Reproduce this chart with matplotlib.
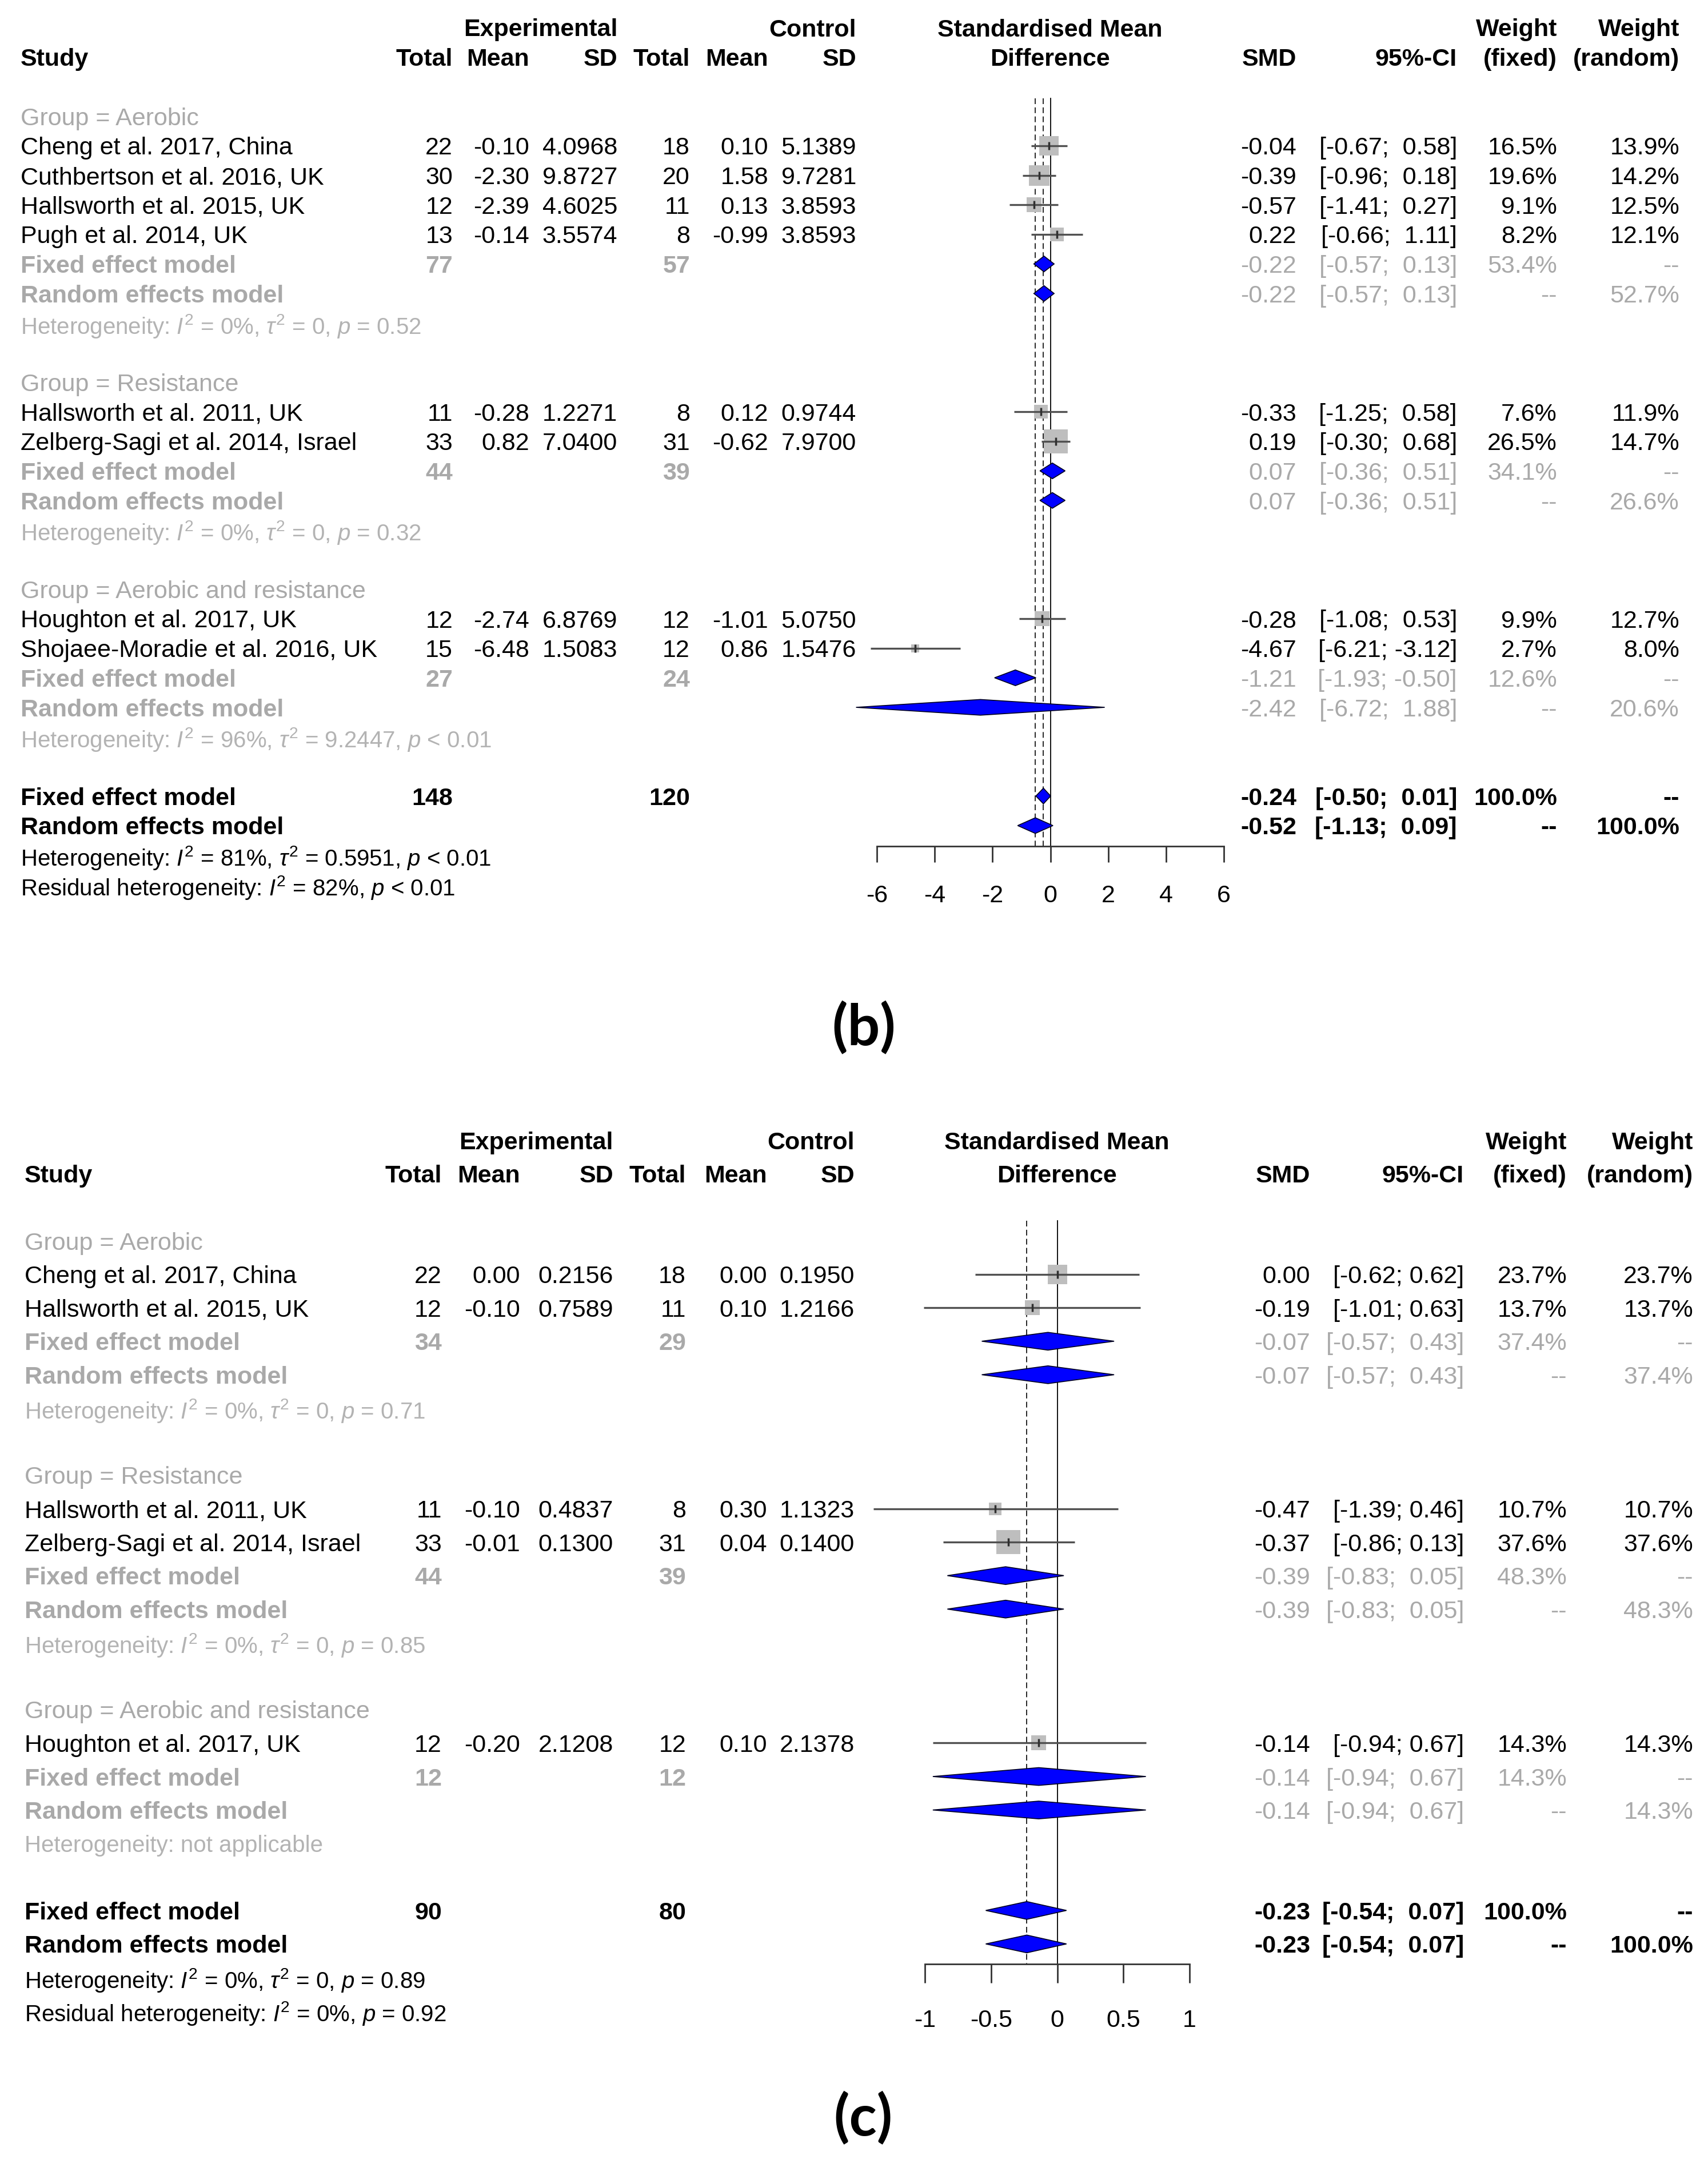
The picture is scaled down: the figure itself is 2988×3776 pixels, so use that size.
# forest plots (b) and (c): standardised mean difference by exercise group
# fixed and random effects, subgroup rows in grey, pooled diamonds in blue

import numpy as np
import matplotlib
matplotlib.use('Agg')
import matplotlib.pyplot as plt

plt.rcParams['font.family'] = ['Liberation Sans', 'DejaVu Sans']
plt.rcParams['mathtext.fontset'] = 'custom'
plt.rcParams['mathtext.rm'] = 'Liberation Sans'
plt.rcParams['mathtext.it'] = 'Liberation Sans:italic'
plt.rcParams['mathtext.bf'] = 'Liberation Sans:bold'
plt.rcParams['axes.unicode_minus'] = False

# ---------------- data (b) ----------------
b_groups = ['Aerobic', 'Resistance', 'Aerobic and resistance']
b_study = ['Cheng et al. 2017, China', 'Cuthbertson et al. 2016, UK',
           'Hallsworth et al. 2015, UK', 'Pugh et al. 2014, UK',
           'Hallsworth et al. 2011, UK', 'Zelberg-Sagi et al. 2014, Israel',
           'Houghton et al. 2017, UK', 'Shojaee-Moradie et al. 2016, UK']
b_grp = [0, 0, 0, 0, 1, 1, 2, 2]
b_ne = [22, 30, 12, 13, 11, 33, 12, 15]
b_me = [-0.10, -2.30, -2.39, -0.14, -0.28, 0.82, -2.74, -6.48]
b_se = [4.0968, 9.8727, 4.6025, 3.5574, 1.2271, 7.0400, 6.8769, 1.5083]
b_nc = [18, 20, 11, 8, 8, 31, 12, 12]
b_mc = [0.10, 1.58, 0.13, -0.99, 0.12, -0.62, -1.01, 0.86]
b_sc = [5.1389, 9.7281, 3.8593, 3.8593, 0.9744, 7.9700, 5.0750, 1.5476]
b_smd = [-0.04, -0.39, -0.57, 0.22, -0.33, 0.19, -0.28, -4.67]
b_lo = [-0.67, -0.96, -1.41, -0.66, -1.25, -0.30, -1.08, -6.21]
b_hi = [0.58, 0.18, 0.27, 1.11, 0.58, 0.68, 0.53, -3.12]
b_wf = [16.5, 19.6, 9.1, 8.2, 7.6, 26.5, 9.9, 2.7]
b_wr = [13.9, 14.2, 12.5, 12.1, 11.9, 14.7, 12.7, 8.0]

b_sub_ne = [77, 44, 27]
b_sub_nc = [57, 39, 24]
b_fix_est = [-0.22, 0.07, -1.21]
b_fix_lo = [-0.57, -0.36, -1.93]
b_fix_hi = [0.13, 0.51, -0.50]
b_fix_w = [53.4, 34.1, 12.6]
b_ran_est = [-0.22, 0.07, -2.42]
b_ran_lo = [-0.57, -0.36, -6.72]
b_ran_hi = [0.13, 0.51, 1.88]
b_ran_w = [52.7, 26.6, 20.6]
b_sub_het = [r'Heterogeneity: $I^2$ = 0%, $\tau^2$ = 0, $p$ = 0.52',
             r'Heterogeneity: $I^2$ = 0%, $\tau^2$ = 0, $p$ = 0.32',
             r'Heterogeneity: $I^2$ = 96%, $\tau^2$ = 9.2447, $p$ < 0.01']
b_tot_n = [148, 120]
b_tot_fix = [-0.24, -0.50, 0.01]
b_tot_ran = [-0.52, -1.13, 0.09]
b_het = r'Heterogeneity: $I^2$ = 81%, $\tau^2$ = 0.5951, $p$ < 0.01'
b_resid = r'Residual heterogeneity: $I^2$ = 82%, $p$ < 0.01'
b_xticks = [-6, -4, -2, 0, 2, 4, 6]
b_xticklabels = ['-6', '-4', '-2', '0', '2', '4', '6']

# ---------------- data (c) ----------------
c_groups = ['Aerobic', 'Resistance', 'Aerobic and resistance']
c_study = ['Cheng et al. 2017, China', 'Hallsworth et al. 2015, UK',
           'Hallsworth et al. 2011, UK', 'Zelberg-Sagi et al. 2014, Israel',
           'Houghton et al. 2017, UK']
c_grp = [0, 0, 1, 1, 2]
c_ne = [22, 12, 11, 33, 12]
c_me = [0.00, -0.10, -0.10, -0.01, -0.20]
c_se = [0.2156, 0.7589, 0.4837, 0.1300, 2.1208]
c_nc = [18, 11, 8, 31, 12]
c_mc = [0.00, 0.10, 0.30, 0.04, 0.10]
c_sc = [0.1950, 1.2166, 1.1323, 0.1400, 2.1378]
c_smd = [0.00, -0.19, -0.47, -0.37, -0.14]
c_lo = [-0.62, -1.01, -1.39, -0.86, -0.94]
c_hi = [0.62, 0.63, 0.46, 0.13, 0.67]
c_wf = [23.7, 13.7, 10.7, 37.6, 14.3]
c_wr = [23.7, 13.7, 10.7, 37.6, 14.3]

c_sub_ne = [34, 44, 12]
c_sub_nc = [29, 39, 12]
c_fix_est = [-0.07, -0.39, -0.14]
c_fix_lo = [-0.57, -0.83, -0.94]
c_fix_hi = [0.43, 0.05, 0.67]
c_fix_w = [37.4, 48.3, 14.3]
c_ran_est = [-0.07, -0.39, -0.14]
c_ran_lo = [-0.57, -0.83, -0.94]
c_ran_hi = [0.43, 0.05, 0.67]
c_ran_w = [37.4, 48.3, 14.3]
c_sub_het = [r'Heterogeneity: $I^2$ = 0%, $\tau^2$ = 0, $p$ = 0.71',
             r'Heterogeneity: $I^2$ = 0%, $\tau^2$ = 0, $p$ = 0.85',
             'Heterogeneity: not applicable']
c_tot_n = [90, 80]
c_tot_fix = [-0.23, -0.54, 0.07]
c_tot_ran = [-0.23, -0.54, 0.07]
c_het = r'Heterogeneity: $I^2$ = 0%, $\tau^2$ = 0, $p$ = 0.89'
c_resid = r'Residual heterogeneity: $I^2$ = 0%, $p$ = 0.92'
c_xticks = [-1, -0.5, 0, 0.5, 1]
c_xticklabels = ['-1', '-0.5', '0', '0.5', '1']

# ---------------- styles ----------------
W, H = 2988, 3776
FS = 31
FS_HET = 29
GREY = '#A9A9A9'
HETGREY = '#B3B3B3'
SQ = '#BEBEBE'
CI_COL = '#505050'

fig = plt.figure(figsize=(W / 100, H / 100), dpi=100)


def ci_str(lo, hi, pad=True):
    if pad:
        return '[%s; %s]' % ('%5.2f' % lo, '%5.2f' % hi)
    return '[%.2f; %.2f]' % (lo, hi)


def put(ax, x, r, s, ha='right', color='black', weight='normal', size=FS):
    ax.text(x, r, s, ha=ha, va='center_baseline', color=color,
            fontweight=weight, fontsize=size)


def panel(D, L):
    y0, dy, top, bot = L['y0'], L['dy'], L['top'], L['bot']
    ylim = ((bot - y0) / dy, (top - y0) / dy)
    ax = fig.add_axes([0, 1 - bot / H, 1, (bot - top) / H])
    ax.set_xlim(0, W)
    ax.set_ylim(ylim)
    ax.axis('off')
    fx0, fx1 = L['fx']
    fa = fig.add_axes([fx0 / W, 1 - bot / H, (fx1 - fx0) / W, (bot - top) / H])
    fa.set_xlim(D['xticks'][0], D['xticks'][-1])
    fa.set_ylim(ylim)
    fa.patch.set_visible(False)
    for s in ['left', 'right', 'top']:
        fa.spines[s].set_visible(False)
    fa.spines['bottom'].set_position(('data', L['axis_row']))
    fa.spines['bottom'].set_bounds(D['xticks'][0], D['xticks'][-1])
    fa.spines['bottom'].set_linewidth(2)
    fa.spines['bottom'].set_color('#333333')
    fa.set_yticks([])
    fa.set_xticks(D['xticks'])
    fa.set_xticklabels(D['xticklabels'])
    fa.tick_params(axis='x', direction='out', length=L['tick_len'], width=2,
                   color='#333333', pad=L['tick_pad'], labelsize=FS)

    C = L['cols']
    # header
    put(ax, C['sd_e'], 0, 'Experimental', weight='bold')
    put(ax, C['sd_c'], 0, 'Control', weight='bold')
    put(ax, C['fc'], 0, 'Standardised Mean', ha='center', weight='bold')
    put(ax, C['wf'], 0, 'Weight', weight='bold')
    put(ax, C['wr'], 0, 'Weight', weight='bold')
    put(ax, C['study'], 1, 'Study', ha='left', weight='bold')
    for key, lab in [('n_e', 'Total'), ('m_e', 'Mean'), ('sd_e', 'SD'),
                     ('n_c', 'Total'), ('m_c', 'Mean'), ('sd_c', 'SD'),
                     ('smd', 'SMD'), ('ci', '95%-CI'), ('wf', '(fixed)'),
                     ('wr', '(random)')]:
        put(ax, C[key], 1, lab, weight='bold')
    put(ax, C['fc'], 1, 'Difference', ha='center', weight='bold')

    wmax = max(D['wf'])
    hh = 0.265

    def diamond(est, lo, hi, r):
        fa.fill([lo, est, hi, est], [r, r - hh, r, r + hh], facecolor='#0000FF',
                edgecolor='#000020', linewidth=1.2, zorder=4, clip_on=False)

    r = 3
    for g, gname in enumerate(D['groups']):
        put(ax, C['study'], r, 'Group = ' + gname, ha='left', color=GREY)
        r += 1
        for i in range(len(D['study'])):
            if D['grp'][i] != g:
                continue
            put(ax, C['study'], r, D['study'][i], ha='left')
            put(ax, C['n_e'], r, '%d' % D['ne'][i])
            put(ax, C['m_e'], r, '%.2f' % D['me'][i])
            put(ax, C['sd_e'], r, '%.4f' % D['se'][i])
            put(ax, C['n_c'], r, '%d' % D['nc'][i])
            put(ax, C['m_c'], r, '%.2f' % D['mc'][i])
            put(ax, C['sd_c'], r, '%.4f' % D['sc'][i])
            put(ax, C['smd'], r, '%.2f' % D['smd'][i])
            put(ax, C['ci'], r, ci_str(D['lo'][i], D['hi'][i], L['pad_study']))
            put(ax, C['wf'], r, '%.1f%%' % D['wf'][i])
            put(ax, C['wr'], r, '%.1f%%' % D['wr'][i])
            side = 43 * 0.72 * np.sqrt(D['wf'][i] / wmax)
            fa.scatter([D['smd'][i]], [r], s=side ** 2, marker='s', color=SQ,
                       linewidths=0, zorder=2, clip_on=False)
            fa.hlines(r, D['lo'][i], D['hi'][i], color=CI_COL, lw=2.4,
                      zorder=3, clip_on=False)
            fa.plot([D['smd'][i]], [r], marker='|', ms=10, mew=2.5,
                    color='#303030', zorder=3, clip_on=False)
            r += 1
        # subgroup pooled rows
        put(ax, C['study'], r, 'Fixed effect model', ha='left', color=GREY, weight='bold')
        put(ax, C['n_e'], r, '%d' % D['sub_ne'][g], color=GREY, weight='bold')
        put(ax, C['n_c'], r, '%d' % D['sub_nc'][g], color=GREY, weight='bold')
        put(ax, C['smd'], r, '%.2f' % D['fe'][g], color=GREY)
        put(ax, C['ci'], r, ci_str(D['fl'][g], D['fh'][g]), color=GREY)
        put(ax, C['wf'], r, '%.1f%%' % D['fw'][g], color=GREY)
        put(ax, C['wr'], r, '--', color=GREY)
        diamond(D['fe'][g], D['fl'][g], D['fh'][g], r)
        r += 1
        put(ax, C['study'], r, 'Random effects model', ha='left', color=GREY, weight='bold')
        put(ax, C['smd'], r, '%.2f' % D['re'][g], color=GREY)
        put(ax, C['ci'], r, ci_str(D['rl'][g], D['rh'][g]), color=GREY)
        put(ax, C['wf'], r, '--', color=GREY)
        put(ax, C['wr'], r, '%.1f%%' % D['rw'][g], color=GREY)
        diamond(D['re'][g], D['rl'][g], D['rh'][g], r)
        r += 1
        put(ax, C['study'], r, D['sub_het'][g], ha='left', color=HETGREY, size=FS_HET)
        r += 2

    # overall
    tf, tr = D['tot_fix'], D['tot_ran']
    put(ax, C['study'], r, 'Fixed effect model', ha='left', weight='bold')
    put(ax, C['n_e'], r, '%d' % D['tot_n'][0], weight='bold')
    put(ax, C['n_c'], r, '%d' % D['tot_n'][1], weight='bold')
    put(ax, C['smd'], r, '%.2f' % tf[0], weight='bold')
    put(ax, C['ci'], r, ci_str(tf[1], tf[2]), weight='bold')
    put(ax, C['wf'], r, '100.0%', weight='bold')
    put(ax, C['wr'], r, '--', weight='bold')
    diamond(tf[0], tf[1], tf[2], r)
    put(ax, C['study'], r + 1, 'Random effects model', ha='left', weight='bold')
    put(ax, C['smd'], r + 1, '%.2f' % tr[0], weight='bold')
    put(ax, C['ci'], r + 1, ci_str(tr[1], tr[2]), weight='bold')
    put(ax, C['wf'], r + 1, '--', weight='bold')
    put(ax, C['wr'], r + 1, '100.0%', weight='bold')
    diamond(tr[0], tr[1], tr[2], r + 1)
    put(ax, C['study'], r + 2, D['het'], ha='left', size=FS_HET)
    put(ax, C['study'], r + 3, D['resid'], ha='left', size=FS_HET)

    # reference lines: no effect and pooled estimates
    fa.plot([0, 0], [L['line_top'], L['axis_row']], color='black', lw=1.3, zorder=1)
    refs = sorted(set([tf[0], tr[0]]))
    for v in refs:
        fa.plot([v, v], [L['line_top'], L['axis_row']], color='black', lw=1.2,
                ls=(0, (6, 3.5)), zorder=1)

    fig.text(L['label_xy'][0] / W, 1 - L['label_xy'][1] / H, L['label'],
             ha='center', va='center', fontsize=72, fontweight='bold',
             family=['Lato', 'DejaVu Sans'])


Db = dict(groups=b_groups, study=b_study, grp=b_grp, ne=b_ne, me=b_me, se=b_se,
          nc=b_nc, mc=b_mc, sc=b_sc, smd=b_smd, lo=b_lo, hi=b_hi, wf=b_wf, wr=b_wr,
          sub_ne=b_sub_ne, sub_nc=b_sub_nc, fe=b_fix_est, fl=b_fix_lo, fh=b_fix_hi,
          fw=b_fix_w, re=b_ran_est, rl=b_ran_lo, rh=b_ran_hi, rw=b_ran_w,
          sub_het=b_sub_het, tot_n=b_tot_n, tot_fix=b_tot_fix, tot_ran=b_tot_ran,
          het=b_het, resid=b_resid, xticks=b_xticks, xticklabels=b_xticklabels)
Dc = dict(groups=c_groups, study=c_study, grp=c_grp, ne=c_ne, me=c_me, se=c_se,
          nc=c_nc, mc=c_mc, sc=c_sc, smd=c_smd, lo=c_lo, hi=c_hi, wf=c_wf, wr=c_wr,
          sub_ne=c_sub_ne, sub_nc=c_sub_nc, fe=c_fix_est, fl=c_fix_lo, fh=c_fix_hi,
          fw=c_fix_w, re=c_ran_est, rl=c_ran_lo, rh=c_ran_hi, rw=c_ran_w,
          sub_het=c_sub_het, tot_n=c_tot_n, tot_fix=c_tot_fix, tot_ran=c_tot_ran,
          het=c_het, resid=c_resid, xticks=c_xticks, xticklabels=c_xticklabels)

Lb = dict(y0=48, dy=51.7, top=0, bot=1700, fx=(1534, 2141), axis_row=27.7,
          tick_len=20, tick_pad=28, line_top=2.4, pad_study=True,
          label='(b)', label_xy=(1511, 1798),
          cols=dict(study=36, n_e=792, m_e=926, sd_e=1080, n_c=1207, m_c=1344,
                    sd_c=1498, fc=1837, smd=2268, ci=2549, wf=2724, wr=2938))
Lc = dict(y0=1994.4, dy=58.56, top=1880, bot=3600, fx=(1618, 2081), axis_row=24.6,
          tick_len=24, tick_pad=33, line_top=2.4, pad_study=False,
          label='(c)', label_xy=(1510, 3705),
          cols=dict(study=43, n_e=773, m_e=910, sd_e=1073, n_c=1200, m_c=1342,
                    sd_c=1495, fc=1849, smd=2292, ci=2561, wf=2741, wr=2962))

panel(Db, Lb)
panel(Dc, Lc)

fig.savefig('out.png', dpi=100)
